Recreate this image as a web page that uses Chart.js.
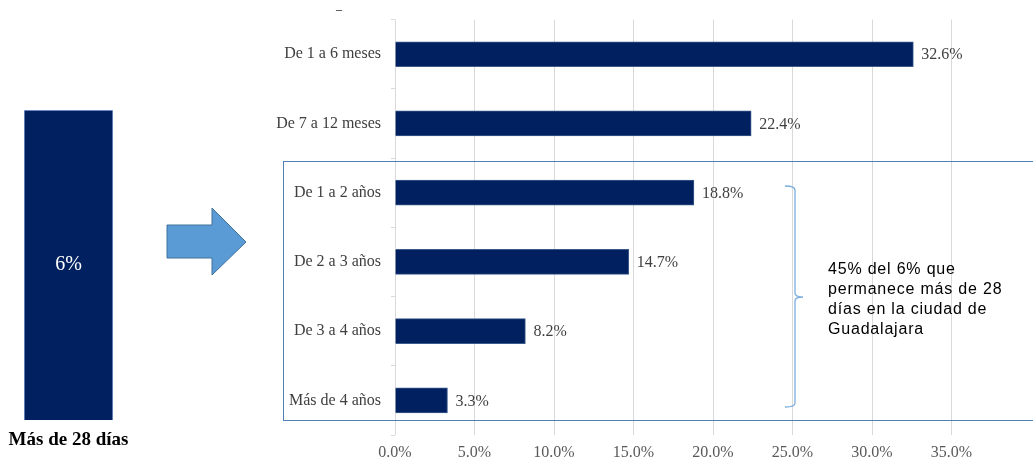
<!DOCTYPE html>
<html>
<head>
<meta charset="utf-8">
<script src="https://cdn.jsdelivr.net/npm/chart.js@4.4.0/dist/chart.umd.min.js"></script>
<style>
  html, body { margin: 0; padding: 0; background: #fff; }
  body { width: 1033px; height: 460px; position: relative; overflow: hidden; }
  canvas { position: absolute; top: 0; }
  #mainChart { left: 260px; }
  #leftChart { left: 0; }
  .box { position: absolute; left: 283px; top: 161px; width: 780px; height: 258px; border: 1px solid #4f7fb3; pointer-events: none; }
  .note { position: absolute; left: 828px; top: 259px; font-family: "Liberation Sans", Arial, sans-serif; font-size: 16px; line-height: 20px; letter-spacing: 0.8px; color: #000; white-space: nowrap; }
  .dash { position: absolute; left: 336px; top: 2px; font-family: "Liberation Serif", serif; font-size: 12px; color: #000; }
  svg { position: absolute; left: 0; top: 0; pointer-events: none; }
</style>
</head>
<body>
<canvas id="leftChart" width="140" height="460"></canvas>
<canvas id="mainChart" width="773" height="460"></canvas>
<div class="box"></div>
<div class="dash">–</div>
<svg width="1033" height="460">
  <!-- flecha -->
  <polygon points="167,225 212,225 212,208 246,242 212,275 212,258 167,258" fill="#5b9bd5" stroke="#41719c" stroke-width="1"/>
  <!-- llave -->
  <path d="M785,186 Q795,186 795,190 L795,293 Q795,297 803,297 Q795,297 795,301 L795,403 Q795,407 785,407" fill="none" stroke="#7aaee0" stroke-width="1.3"/>
</svg>
<div class="note">45% del 6% que<br>permanece más de 28<br>días en la ciudad de<br>Guadalajara</div>

<script>
// Datos del gráfico
const categorias = ['De 1 a 6 meses', 'De 7 a 12 meses', 'De 1 a 2 años', 'De 2 a 3 años', 'De 3 a 4 años', 'Más de 4 años'];
const porcentajes = [32.6, 22.4, 18.8, 14.7, 8.2, 3.3];
const ticksX = [0, 5, 10, 15, 20, 25, 30, 35];

const categoriaTotal = ['Más de 28 días'];
const porcentajeTotal = [6];

const azul = '#002060';
const serif = '"Liberation Serif", "Times New Roman", serif';

// Etiquetas de valor al final de cada barra
const etiquetasBarras = {
    id: 'etiquetasBarras',
    afterDatasetsDraw(chart, args, opts) {
        const ctx = chart.ctx;
        const meta = chart.getDatasetMeta(0);
        ctx.save();
        ctx.font = opts.font;
        ctx.fillStyle = opts.color;
        ctx.textBaseline = 'middle';
        meta.data.forEach((bar, i) => {
            const v = chart.data.datasets[0].data[i];
            if (opts.centro) {
                ctx.textAlign = 'center';
                ctx.fillText(v + '%', bar.x, (bar.y + bar.base) / 2);
            } else {
                ctx.textAlign = 'left';
                ctx.fillText(v.toFixed(1) + '%', bar.x + 8, bar.y + 1);
            }
        });
        ctx.restore();
    }
};

// Gráfico principal (barras horizontales)
new Chart(document.getElementById('mainChart'), {
    type: 'bar',
    data: {
        labels: categorias,
        datasets: [{
            data: porcentajes,
            backgroundColor: azul,
            borderColor: '#3a5a8c',
            borderWidth: 1,
            barThickness: 25
        }]
    },
    options: {
        indexAxis: 'y',
        responsive: false,
        animation: false,
        layout: { padding: { top: 18, right: 2, left: 0, bottom: 0 } },
        plugins: {
            legend: { display: false },
            tooltip: { enabled: false },
            etiquetasBarras: { font: '16px ' + serif, color: '#404040' }
        },
        scales: {
            x: {
                min: 0,
                max: 40,
                afterBuildTicks: s => { s.ticks = ticksX.concat([40]).map(v => ({ value: v })); },
                ticks: {
                    callback: v => ticksX.includes(v) ? v.toFixed(1) + '%' : '',
                    font: { family: serif, size: 16 },
                    color: '#595959',
                    padding: 8,
                    autoSkip: false,
                    maxRotation: 0
                },
                grid: {
                    color: c => (c.tick && c.tick.value === 40) ? 'rgba(0,0,0,0)' : '#d9d9d9',
                    drawTicks: false
                },
                border: { display: false },
                afterFit: s => { s.height = 25; s.paddingLeft = 0; s.paddingRight = 0; }
            },
            y: {
                ticks: {
                    font: { family: serif, size: 16 },
                    color: '#404040',
                    padding: 10
                },
                grid: { drawOnChartArea: false, tickLength: 4, color: '#d9d9d9' },
                border: { display: false },
                afterFit: s => { s.width = 135; }
            }
        }
    },
    plugins: [etiquetasBarras]
});

// Barra del total (Más de 28 días)
new Chart(document.getElementById('leftChart'), {
    type: 'bar',
    data: {
        labels: categoriaTotal,
        datasets: [{
            data: porcentajeTotal,
            backgroundColor: azul,
            borderColor: '#8faadc',
            borderWidth: 1,
            categoryPercentage: 1,
            barPercentage: 1
        }]
    },
    options: {
        responsive: false,
        animation: false,
        layout: { padding: { top: 110, left: 24, right: 27, bottom: 0 } },
        plugins: {
            legend: { display: false },
            tooltip: { enabled: false },
            etiquetasBarras: { font: '20px ' + serif, color: '#ffffff', centro: true }
        },
        scales: {
            x: {
                ticks: {
                    font: { family: serif, size: 19, weight: 'bold' },
                    color: '#000',
                    padding: 1,
                    autoSkip: false,
                    maxRotation: 0,
                    minRotation: 0
                },
                grid: { display: false },
                border: { display: false },
                afterFit: s => { s.height = 40; s.paddingLeft = 0; s.paddingRight = 0; }
            },
            y: { display: false, min: 0, max: 6 }
        }
    },
    plugins: [etiquetasBarras]
});
</script>
</body>
</html>
